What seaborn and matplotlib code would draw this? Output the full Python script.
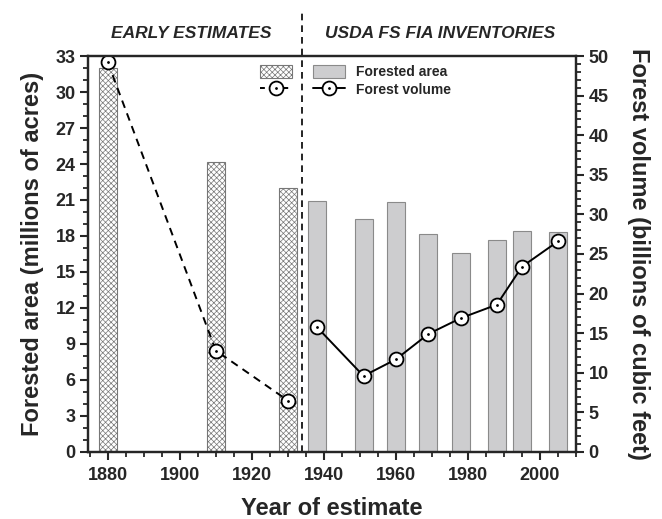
import numpy as np
import pandas as pd
import matplotlib
matplotlib.use("Agg")
import matplotlib.pyplot as plt
import matplotlib.transforms as mtransforms
from matplotlib.lines import Line2D
from matplotlib.patches import Patch
from matplotlib.legend_handler import HandlerTuple
from matplotlib.ticker import MultipleLocator
import seaborn as sns

# ============================ data ============================
early_years = [1880, 1910, 1930]
early_area = [32.0, 24.2, 22.0]          # millions of acres
early_volume = [49.2, 12.8, 6.5]         # billions of cubic feet

fia_years = [1938, 1951, 1960, 1969, 1978, 1988, 1995, 2005]
fia_area = [20.9, 19.4, 20.8, 18.2, 16.6, 17.7, 18.4, 18.3]
fia_volume = [15.8, 9.6, 11.7, 14.9, 16.9, 18.6, 23.4, 26.6]

early_df = pd.DataFrame({"Year": early_years, "Area": early_area, "Volume": early_volume})
fia_df = pd.DataFrame({"Year": fia_years, "Area": fia_area, "Volume": fia_volume})

# ============================ style ============================
sns.set_style("ticks")
plt.rcParams["font.family"] = ["Liberation Sans", "DejaVu Sans"]
plt.rcParams["font.weight"] = "bold"
plt.rcParams["hatch.linewidth"] = 0.5
plt.rcParams["hatch.color"] = "#555555"

fig = plt.figure(figsize=(6.62, 5.19), dpi=100)
ax = fig.add_axes([88 / 662, 67 / 519, 488 / 662, 396 / 519])
ax2 = ax.twinx()

HATCH = "xxxxxx"

# ============================ bars (left axis) ============================
ax.bar(early_df["Year"], early_df["Area"], width=5, facecolor="white",
       edgecolor="#777777", linewidth=0.8, hatch=HATCH, zorder=2)
ax.bar(fia_df["Year"], fia_df["Area"], width=5, facecolor="#cdcdcf",
       edgecolor="#8a8a8a", linewidth=0.8, zorder=2)

# ============================ volume lines (right axis) ============================
mk = dict(marker="o", markersize=10, markerfacecolor="white",
          markeredgecolor="black", markeredgewidth=1.3)
sns.lineplot(data=early_df, x="Year", y="Volume", ax=ax2, color="black",
             linewidth=1.4, linestyle=(0, (4, 3)), sort=False, **mk)
sns.lineplot(data=fia_df, x="Year", y="Volume", ax=ax2, color="black",
             linewidth=1.4, sort=False, **mk)
ax2.plot(early_years + fia_years, early_volume + fia_volume, ".", color="black",
         markersize=2, zorder=5)

# separator between the two periods
trans = mtransforms.blended_transform_factory(ax.transData, ax.transAxes)
ax.plot([1934, 1934], [0, 1.11], transform=trans, color="black", lw=1.2,
        linestyle=(0, (4, 3)), clip_on=False, zorder=3)

ax.text(1903.3, 1.058, "EARLY ESTIMATES", transform=trans, ha="center", va="center",
        fontsize=12.5, fontstyle="italic", fontweight="bold")
ax.text(1972.2, 1.058, "USDA FS FIA INVENTORIES", transform=trans, ha="center",
        va="center", fontsize=12.5, fontstyle="italic", fontweight="bold")

# ============================ axes ============================
ax.set_xlim(1874.5, 2010)
ax.set_ylim(0, 33)
ax2.set_ylim(0, 50)
ax.xaxis.set_major_locator(MultipleLocator(20))
ax.xaxis.set_minor_locator(MultipleLocator(5))
ax.yaxis.set_major_locator(MultipleLocator(3))
ax.yaxis.set_minor_locator(MultipleLocator(1))
ax2.yaxis.set_major_locator(MultipleLocator(5))
ax2.yaxis.set_minor_locator(MultipleLocator(1))

for a in (ax, ax2):
    for s in a.spines.values():
        s.set_linewidth(1.6)
    a.tick_params(which="major", length=6, width=1.5, labelsize=13, pad=3)
    a.tick_params(which="minor", length=3.5, width=1.3)
ax.tick_params(axis="x", which="major", pad=5)
ax.set_zorder(1)
ax2.set_zorder(2)

ax.set_xlabel("Year of estimate", fontsize=17, fontweight="bold", labelpad=9)
ax.set_ylabel("Forested area (millions of acres)", fontsize=17, fontweight="bold", labelpad=8)
ax2.set_ylabel("Forest volume (billions of cubic feet)", fontsize=17, fontweight="bold",
               rotation=270, labelpad=30)

# ============================ legends ============================
h_hatch = Patch(facecolor="white", edgecolor="#777777", hatch=HATCH, linewidth=0.8)
h_gray = Patch(facecolor="#cdcdcf", edgecolor="#8a8a8a", linewidth=0.8)
h_dash = Line2D([], [], color="black", linewidth=1.4, linestyle=(0, (2.5, 3.5)), **mk)
h_solid = Line2D([], [], color="black", linewidth=1.4, **mk)
h_dot = Line2D([], [], linestyle="none", marker=".", color="black", markersize=2)

leg1 = ax2.legend([h_hatch, (h_dash, h_dot)], ["", ""],
                  handler_map={tuple: HandlerTuple(ndivide=1)},
                  loc="upper left", bbox_to_anchor=(0.352, 0.978), frameon=False,
                  fontsize=10, handlelength=2.3, handleheight=1.1, borderpad=0,
                  borderaxespad=0, labelspacing=0.25, handletextpad=0)
ax2.add_artist(leg1)
ax2.legend([h_gray, (h_solid, h_dot)], ["Forested area", "Forest volume"],
           handler_map={tuple: HandlerTuple(ndivide=1)},
           loc="upper left", bbox_to_anchor=(0.461, 0.978), frameon=False,
           fontsize=10, handlelength=2.3, handleheight=1.1, borderpad=0,
           borderaxespad=0, labelspacing=0.25, handletextpad=0.8)

fig.savefig("out.png", dpi=100)
